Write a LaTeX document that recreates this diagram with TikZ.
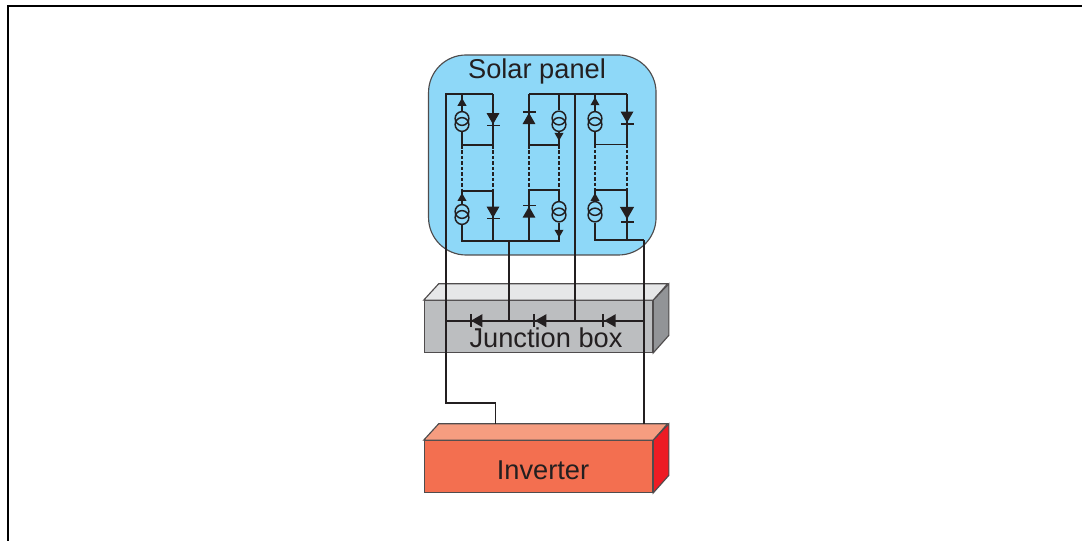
\documentclass[tikz,border=0pt]{standalone}
\usepackage{fontspec}
\setmainfont{Liberation Sans}
\usetikzlibrary{shapes.geometric}
\definecolor{ink}{HTML}{231F20}
\definecolor{panelblue}{HTML}{8ED8F8}
\definecolor{jfront}{HTML}{BCBEC0}
\definecolor{jtop}{HTML}{E6E7E8}
\definecolor{jside}{HTML}{929497}
\definecolor{ifront}{HTML}{F36F50}
\definecolor{itop}{HTML}{F69D80}
\definecolor{iside}{HTML}{ED1C24}
\tikzset{
	wire/.style={color=ink, line width=1pt},
	thinwire/.style={color=ink, line width=0.75pt},
	dashwire/.style={color=ink, line width=1pt, dash pattern=on 2pt off 1.1pt},
	source/.style={shape=circle, draw=ink, line width=0.85pt, minimum size=2.75mm, inner sep=0pt},
	diode/.style={shape=regular polygon, regular polygon sides=3, fill=ink, minimum size=3mm, inner sep=0pt},
	tip/.style={shape=regular polygon, regular polygon sides=3, fill=ink, minimum size=2.1mm, inner sep=0pt},
	bar/.style={shape=rectangle, fill=ink, minimum width=2.6mm, minimum height=0.32mm, inner sep=0pt},
	face/.style={draw=ink!80, line width=0.65pt},
	front/.style={shape=rectangle, face, minimum width=45.68mm, minimum height=10.32mm, inner sep=0pt},
	label/.style={font=\fontsize{15.5}{18}\selectfont, text=ink, inner sep=0pt},
}
\begin{document}
\begin{tikzpicture}[x=0.2mm, y=-0.2mm]
	\useasboundingbox (0,0) rectangle (1082,541);

	% frame
	\coordinate (fa) at (8,541);
	\coordinate (fb) at (8,6);
	\coordinate (fc) at (1082,6);
	\draw [color=black, line width=1.2pt](fa) -- (fb) -- (fc);

	% panel and boxes
	\draw (542.3,155) node[shape=rectangle, rounded corners=7.5mm, face, fill=panelblue, minimum width=45.5mm, minimum height=40mm, inner sep=0pt](panel){};
	\draw (537,71) node[label](panellabel){Solar panel};

	\draw (538.5,326.5) node[front, fill=jfront](jbox){};
	\draw [face, fill=jtop](jbox.north west) -- ++(15,-16.4) -- ++(228.9,0) -- (jbox.north east) -- cycle;
	\draw [face, fill=jside](jbox.north east) -- ++(15.6,-16.4) -- ++(0,51.6) -- (jbox.south east) -- cycle;
	\draw (546,338) node[label](jboxlabel){Junction box};

	\draw (538.5,466.5) node[front, fill=ifront](inv){};
	\draw [face, fill=itop](inv.north west) -- ++(15,-16.4) -- ++(228.9,0) -- (inv.north east) -- cycle;
	\draw [face, fill=iside](inv.north east) -- ++(15.6,-16.4) -- ++(0,51.6) -- (inv.south east) -- cycle;
	\draw (543,470) node[label](invlabel){Inverter};

	% wire points
	\coordinate (tl) at (446,94);
	\coordinate (t1) at (462,94);
	\coordinate (t2) at (493,94);
	\coordinate (t3) at (529,94);
	\coordinate (t4) at (559,94);
	\coordinate (t5) at (575,94);
	\coordinate (t6) at (595,94);
	\coordinate (t7) at (627,94);
	\coordinate (c1) at (462,145);
	\coordinate (c2) at (493,145);
	\coordinate (c3) at (529,145);
	\coordinate (c4) at (559,145);
	\coordinate (c5) at (595,144.5);
	\coordinate (c6) at (627,144.5);
	\coordinate (d1) at (462,190.7);
	\coordinate (d2) at (493,190.7);
	\coordinate (d3) at (529,190);
	\coordinate (d4) at (559,190);
	\coordinate (d5) at (595,190);
	\coordinate (d6) at (627,190);
	\coordinate (b1) at (462,240.7);
	\coordinate (b2) at (493,240.7);
	\coordinate (b3) at (509,240.7);
	\coordinate (b4) at (529,240.7);
	\coordinate (b5) at (559,240.7);
	\coordinate (b6) at (595,240);
	\coordinate (b7) at (627,240);
	\coordinate (b8) at (644,240);
	\coordinate (j1) at (446,320.7);
	\coordinate (j2) at (509,320.7);
	\coordinate (j3) at (575,320.7);
	\coordinate (j4) at (644,320.7);
	\coordinate (k0) at (446,255);
	\coordinate (k1) at (446,403);
	\coordinate (k2) at (495.5,403);
	\coordinate (k3) at (495.5,424.5);
	\coordinate (k4) at (644,424.5);

	% sources
	\draw (462,118.5) node[source](s1){};
	\draw (462,124.5) node[source](s2){};
	\draw (462,211.5) node[source](s3){};
	\draw (462,217.5) node[source](s4){};
	\draw (559,118) node[source](s5){};
	\draw (559,124.5) node[source](s6){};
	\draw (559,208.5) node[source](s7){};
	\draw (559,215) node[source](s8){};
	\draw (595,118.5) node[source](s9){};
	\draw (595,124.5) node[source](s10){};
	\draw (595,208.5) node[source](s11){};
	\draw (595,215) node[source](s12){};

	% wires in the panel
	\draw [wire](t2) -- (tl) -- (k0);
	\draw [thinwire](k0) -- (k1) -- (k2) -- (k3);
	\draw [wire](t3) -- (t7);
	\draw [wire](t5) -- (j3);
	\draw [wire](t1) -- (s1);
	\draw [wire](s2) -- (c1) -- (c2) -- (t2);
	\draw [wire](t3) -- (c3) -- (c4) -- (s6);
	\draw [wire](t4) -- (s5);
	\draw [wire](t6) -- (s9);
	\draw [wire](s10) -- (c5) -- (c6) -- (t7);
	\draw [dashwire](c1) -- (d1);
	\draw [dashwire](c2) -- (d2);
	\draw [dashwire](c3) -- (d3);
	\draw [dashwire](c4) -- (d4);
	\draw [dashwire](c5) -- (d5);
	\draw [dashwire](c6) -- (d6);
	\draw [wire](s3) -- (d1) -- (d2) -- (b2);
	\draw [wire](s4) -- (b1) -- (b5) -- (s8);
	\draw [wire](b4) -- (d3) -- (d4) -- (s7);
	\draw [wire](s11) -- (d5) -- (d6) -- (b7);
	\draw [wire](s12) -- (b6) -- (b8);
	\draw [thinwire](b8) -- (k4);
	\draw [wire](b3) -- (j2);
	\draw [wire](j1) -- (j4);

	% diodes and tips
	\draw (462,103.2) node[tip](a1){};
	\draw (462,198.3) node[tip](a2){};
	\draw (559,135.5) node[tip, shape border rotate=180](a3){};
	\draw (559,232.4) node[tip, shape border rotate=180](a4){};
	\draw (595,102.6) node[tip](a5){};
	\draw (595,198.3) node[tip](a6){};
	\draw (493,116.8) node[diode, shape border rotate=180](e1){};
	\draw (493,125.5) node[bar](f1){};
	\draw (493,210.3) node[diode, shape border rotate=180](e2){};
	\draw (493,218.5) node[bar](f2){};
	\draw (529,120.4) node[diode](e3){};
	\draw (529,112) node[bar](f3){};
	\draw (529,214) node[diode](e4){};
	\draw (529,205.5) node[bar](f4){};
	\draw (627,115.3) node[diode, shape border rotate=180](e5){};
	\draw (627,124) node[bar](f5){};
	\draw (627,211) node[diode, shape border rotate=180, minimum size=3.3mm](e6){};
	\draw (627,222) node[bar](f6){};

	% diodes in the junction box
	\draw (478.5,320.7) node[diode, shape border rotate=90](g1){};
	\draw (471,320.7) node[bar, minimum width=0.26mm, minimum height=2.6mm](h1){};
	\draw (542.5,320.7) node[diode, shape border rotate=90](g2){};
	\draw (534,320.7) node[bar, minimum width=0.26mm, minimum height=2.6mm](h2){};
	\draw (611.8,320.7) node[diode, shape border rotate=90](g3){};
	\draw (603,320.7) node[bar, minimum width=0.26mm, minimum height=2.6mm](h3){};
\end{tikzpicture}
\end{document}
